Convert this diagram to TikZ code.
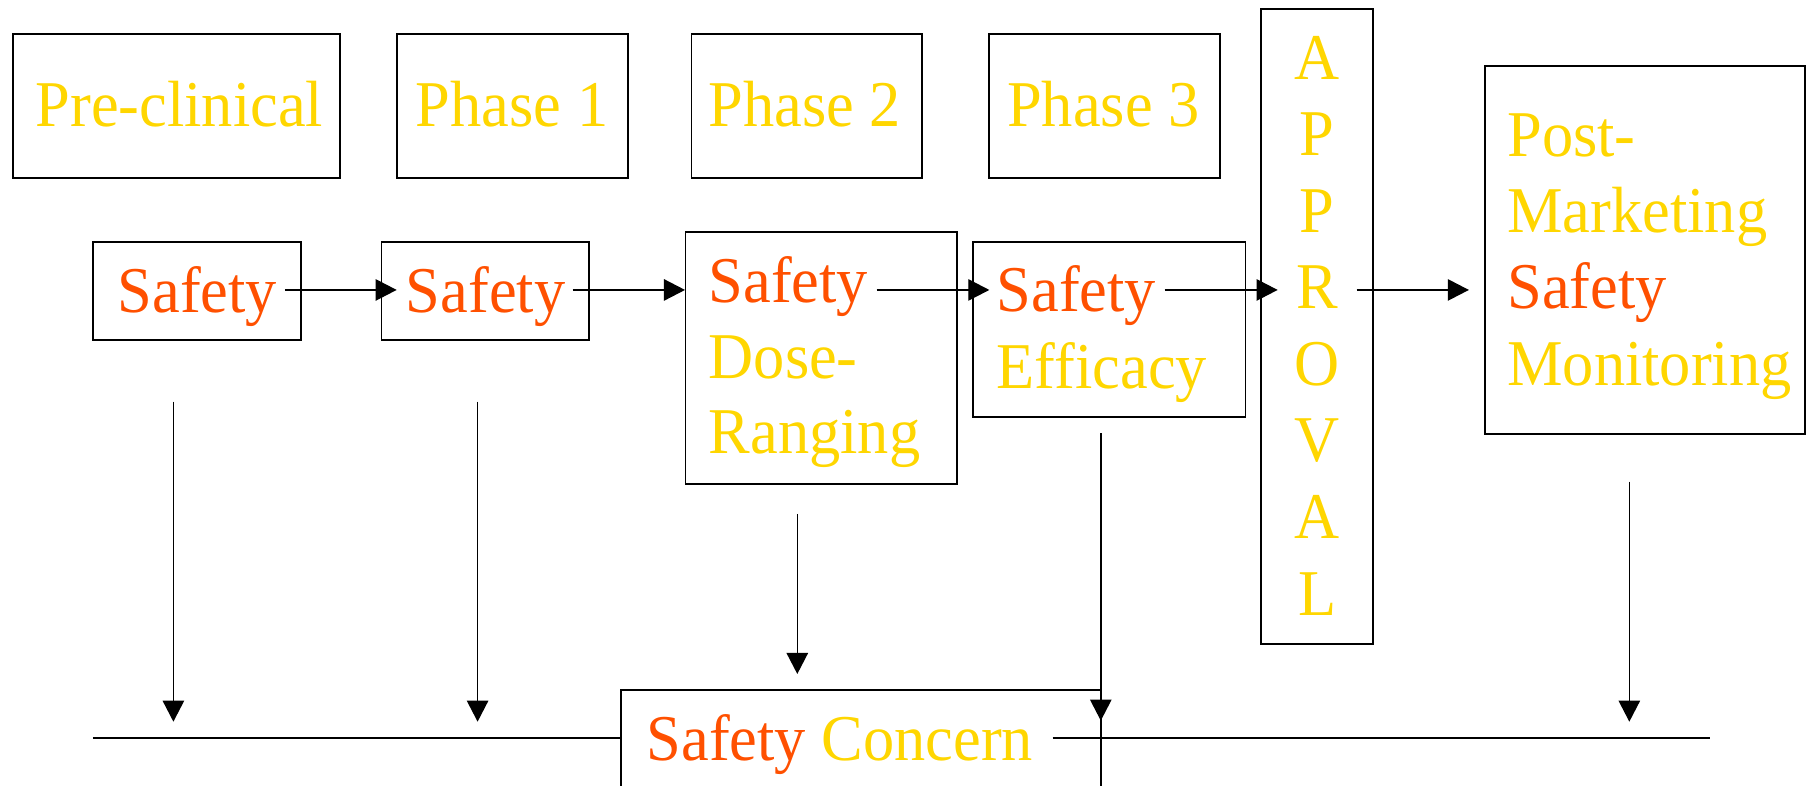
\documentclass[tikz,border=0pt]{standalone}
\usepackage{fontspec}
\setmainfont{Liberation Serif}[FakeStretch=0.955]
\usetikzlibrary{arrows.meta,fit}
\definecolor{gold}{RGB}{255,214,0}
\definecolor{ored}{RGB}{255,80,0}
\tikzset{
  box/.style={draw=black, line width=0.5pt, inner sep=0pt},
  txt/.style={inner sep=0pt, anchor=base west, font=\fontsize{18.6}{21}\selectfont, text=gold},
  rtxt/.style={txt, text=ored},
  ctxt/.style={txt, anchor=base},
  arr/.style={-{Triangle[length=6pt,width=6.1pt]}, line width=0.4pt},
  plain/.style={line width=0.5pt}
}
\begin{document}
\begin{tikzpicture}[x=0.011575cm,y=-0.011575cm]
\useasboundingbox (0,0) rectangle (1568,679);
\clip (0,0) rectangle (1568,679);
% top row
\node[box, fit={(11.2,29.1) (293.5,154)}] (pre) {};
\node[box, fit={(342.9,29.1) (542.3,154)}] (ph1) {};
\node[box, fit={(597.4,29.1) (796.8,154)}] (ph2) {};
\node[box, fit={(854.7,29.1) (1053.7,154)}] (ph3) {};
\node[txt] (tpre) at (30.1,109.7) {Pre-clinical};
\node[txt] (tph1) at (358.7,109.7) {Phase 1};
\node[txt] (tph2) at (611.7,109.7) {Phase 2};
\node[txt] (tph3) at (869.5,109.7) {Phase 3};
% approval
\node[box, fit={(1089.2,8.1) (1186,556.4)}] (appr) {};
\foreach \l/\y/\n in {A/68.5/1, P/134.6/2, P/200.7/3, R/266.8/4, O/333/5, V/399.1/6, A/465.5/7, L/531.5/8}
  \node[ctxt] (ap\n) at (1138,\y) {\l};
% post-marketing
\node[box, fit={(1283,57) (1559.5,375)}] (post) {};
\node[txt] (tpost1) at (1301.6,134.8) {Post-};
\node[txt] (tpost2) at (1301.6,200.6) {Marketing};
\node[rtxt] (tpost3) at (1301.6,266.6) {Safety};
\node[txt] (tpost4) at (1301.6,333) {Monitoring};
% second row
\node[box, fit={(80.2,209) (260.3,294)}] (s1) {};
\node[rtxt] (ts1) at (101,269.8) {Safety};
\node[box, fit={(329.5,209) (509,294)}] (s2) {};
\node[rtxt] (ts2) at (350,269.8) {Safety};
\node[box, fit={(592.2,200.7) (827,418.4)}] (p2) {};
\node[rtxt] (tp2a) at (611.7,261.5) {Safety};
\node[txt] (tp2b) at (611.7,326.8) {Dose-};
\node[txt] (tp2c) at (611.7,392.1) {Ranging};
\node[box, fit={(840.9,209.3) (1076,360)}] (p3) {};
\node[rtxt] (tp3a) at (860.5,269.3) {Safety};
\node[txt] (tp3b) at (860.5,335.4) {Efficacy};
% safety concern
\node[box, fit={(536.6,596) (951,760)}] (sc) {};
\node[txt] (tsc) at (558,656.6) {\textcolor{ored}{Safety} Concern};
% horizontal arrows
\coordinate (h1s) at (246.2,250.5); \coordinate (h1e) at (342.7,250.5);
\coordinate (h2s) at (494.8,250.5); \coordinate (h2e) at (591.8,250.5);
\coordinate (h3s) at (757.4,250.5); \coordinate (h3e) at (854.7,250.5);
\coordinate (h4s) at (1006.2,250.5); \coordinate (h4e) at (1103.8,250.5);
\coordinate (h5s) at (1172,250.5); \coordinate (h5e) at (1269,250.5);
\draw[arr] (h1s) -- (h1e);
\draw[arr] (h2s) -- (h2e);
\draw[arr] (h3s) -- (h3e);
\draw[arr] (h4s) -- (h4e);
\draw[arr] (h5s) -- (h5e);
% vertical arrows
\coordinate (v1s) at (149.8,347); \coordinate (v1e) at (149.8,623.5);
\coordinate (v2s) at (412.6,347); \coordinate (v2e) at (412.6,623.5);
\coordinate (v3s) at (688.8,444); \coordinate (v3e) at (688.8,582.3);
\coordinate (v4s) at (951,374.4); \coordinate (v4e) at (951,622.6); \coordinate (v4b) at (951,700);
\coordinate (v5s) at (1407.6,416); \coordinate (v5e) at (1407.6,623.5);
\draw[arr] (v1s) -- (v1e);
\draw[arr] (v2s) -- (v2e);
\draw[arr] (v3s) -- (v3e);
\draw[arr] (v4s) -- (v4e);
\draw[line width=0.4pt] (v4e) -- (v4b);
\draw[arr] (v5s) -- (v5e);
% bottom line
\coordinate (b1) at (80.3,637.8);
\coordinate (b2) at (909.4,637.8); \coordinate (b3) at (1477,637.8);
\draw[plain] (b1) -- (b1 -| sc.west);
\draw[plain] (b2) -- (b3);
\end{tikzpicture}
\end{document}
